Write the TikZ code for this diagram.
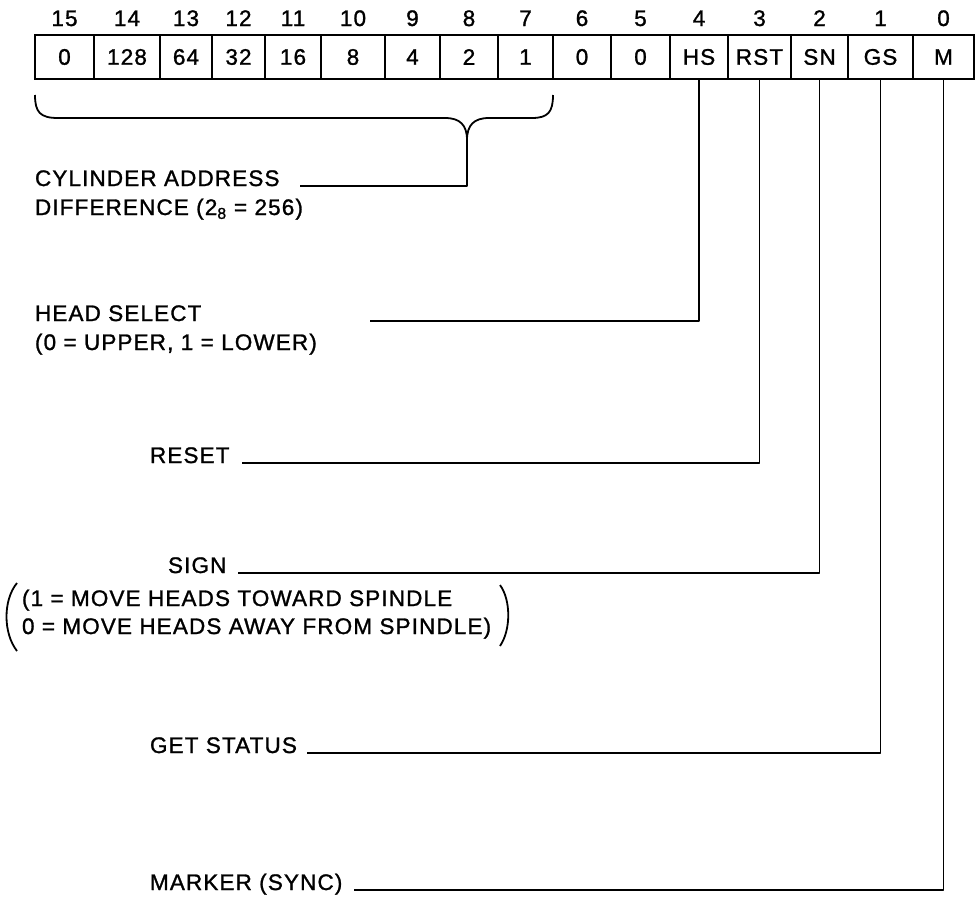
\documentclass[tikz,border=0pt]{standalone}
\usepackage{fontspec}
\setmainfont{Liberation Sans}[LetterSpace=5,FakeBold=1.2]
\usetikzlibrary{calc}
\begin{document}
\begin{tikzpicture}[x=1pt,y=-1pt,
  fs/.style={font=\fontsize{22.5}{26}\selectfont},
  cell/.style={draw, line width=2.3pt, minimum height=44pt, inner sep=0pt, outer sep=0pt, anchor=north west, fs},
  lbl/.style={anchor=base west, inner sep=0pt, outer sep=0pt, fs},
  bitnum/.style={anchor=base, inner sep=0pt, fs},
  lead/.style={line width=1.8pt, line join=round}
]
\useasboundingbox (0,0) rectangle (976,902);

\foreach \l/\r/\t/\b in {35/94/0/15, 94/160/128/14, 160/212/64/13, 212/265/32/12, 265/321/16/11, 321/385/8/10, 385/440/4/9, 440/498/2/8, 498/553/1/7, 553/611/0/6, 611/670/0/5, 670/728/HS/4, 728/791/RST/3, 791/848/SN/2, 848/913/GS/1, 913/974/M/0} {
  \pgfmathsetmacro\w{\r-\l}
  \node[cell, minimum width=\w pt] (b\b) at (\l,35) {\t};
  \node[bitnum] (n\b) at ($(b\b.north)+(0,-9)$) {\b};
}

% brace over bits 15..7
\coordinate (bracetip) at (467,140);
\draw[lead] (35,95) .. controls (35,112) and (40,118) .. (58,118) -- (445,118)
  .. controls (460,118) and (467,125) .. (bracetip)
  .. controls (467,125) and (474,118) .. (489,118) -- (532,118)
  .. controls (548,118) and (553,112) .. (553,95);

% labels
\node[lbl] (cyl) at (35,186) {CYLINDER ADDRESS};
\node[lbl] (cyl2) at (35,215) {DIFFERENCE (2\textsubscript{8} = 256)};
\coordinate (cylend) at ($(cyl.base east)+(20,0)$);
\draw[lead] (bracetip) |- (cylend);

\node[lbl] (hs) at (35,321) {HEAD SELECT};
\node[lbl] (hs2) at (35,350) {(0 = UPPER, 1 = LOWER)};
\coordinate (hsend) at (370,321);
\draw[lead] (b4.south) |- (hsend);

\node[lbl] (rst) at (150,463) {RESET};
\coordinate (rstend) at ($(rst.base east)+(12,0)$);
\draw[lead] (b3.south) |- (rstend);

\node[lbl] (sn) at (168,573) {SIGN};
\node[lbl] (sn1) at (22,606) {(1 = MOVE HEADS TOWARD SPINDLE};
\node[lbl] (sn2) at (22,634) {0 = MOVE HEADS AWAY FROM SPINDLE)};
\coordinate (snend) at ($(sn.base east)+(12,0)$);
\draw[lead] (b2.south) |- (snend);
\draw[lead] (17,583) .. controls (3,600) and (3,633) .. (17,651);
\draw[lead] (500,585) .. controls (511,600) and (511,630) .. (500,646);

\node[lbl] (gs) at (150,753) {GET STATUS};
\coordinate (gsend) at ($(gs.base east)+(10,0)$);
\draw[lead] (b1.south) |- (gsend);

\node[lbl] (mk) at (150,890) {MARKER (SYNC)};
\coordinate (mkend) at ($(mk.base east)+(12,0)$);
\draw[lead] (b0.south) |- (mkend);
\end{tikzpicture}
\end{document}
